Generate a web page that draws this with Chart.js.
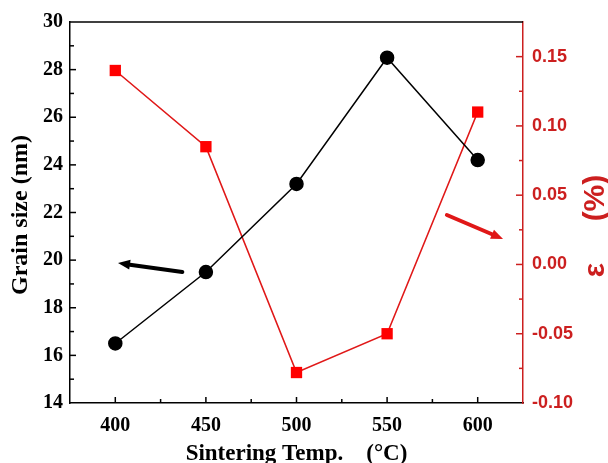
<!DOCTYPE html>
<html>
<head>
<meta charset="utf-8">
<script src="https://cdn.jsdelivr.net/npm/chart.js@4/dist/chart.umd.min.js"></script>
<style>
html,body{margin:0;padding:0;background:#fff}
#wrap{width:608px;height:463px}
</style>
</head>
<body>
<div id="wrap"><canvas id="c" width="608" height="463"></canvas></div>
<script>
const temps = [400, 450, 500, 550, 600];
const grainSize = [16.5, 19.5, 23.2, 28.5, 24.2];
const strain = [0.14, 0.085, -0.078, -0.05, 0.11];

const xTitle = 'Sintering Temp.    (°C)';
const yTitle = 'Grain size (nm)';
const y2Title = 'ε     (%)';

// arrows pointing to the axis each curve belongs to (data units)
const blackArrow = {from: [437, 19.5], to: [401.5, 19.88], axis: 'y'};
const redArrow = {from: [583, 0.0357], to: [614, 0.0184], axis: 'y2'};

const RED = '#e01818';
const AXRED = '#cc1f1f';

function drawArrow(ctx, x1, y1, x2, y2, color){
  const ang = Math.atan2(y2 - y1, x2 - x1);
  const head = 12, hw = 5;
  const bx = x2 - Math.cos(ang) * head, by = y2 - Math.sin(ang) * head;
  ctx.save();
  ctx.strokeStyle = color; ctx.fillStyle = color;
  ctx.lineWidth = 4; ctx.lineCap = 'round';
  ctx.beginPath(); ctx.moveTo(x1, y1); ctx.lineTo(bx, by); ctx.stroke();
  ctx.beginPath();
  ctx.moveTo(x2, y2);
  ctx.lineTo(bx + Math.sin(ang) * hw, by - Math.cos(ang) * hw);
  ctx.lineTo(bx - Math.sin(ang) * hw, by + Math.cos(ang) * hw);
  ctx.closePath(); ctx.fill();
  ctx.restore();
}

const decor = {
  id: 'decor',
  afterDraw(chart){
    const {ctx, chartArea: a, scales} = chart;
    ctx.save();
    // top frame line
    ctx.strokeStyle = '#000'; ctx.lineWidth = 1.5;
    ctx.beginPath(); ctx.moveTo(a.left, a.top); ctx.lineTo(a.right, a.top); ctx.stroke();

    // inward ticks
    ctx.lineWidth = 1.5;
    ctx.strokeStyle = '#000';
    for (let k = 1; k < 16; k++){
      const py = scales.y.getPixelForValue(14 + k);
      const len = k % 2 === 0 ? 6 : 4;
      ctx.beginPath(); ctx.moveTo(a.left, py); ctx.lineTo(a.left + len, py); ctx.stroke();
    }
    for (let k = 1; k < 10; k++){
      const px = scales.x.getPixelForValue(375 + k * 25);
      const len = k % 2 === 1 ? 6 : 4;
      ctx.beginPath(); ctx.moveTo(px, a.bottom); ctx.lineTo(px, a.bottom - len); ctx.stroke();
    }
    ctx.strokeStyle = AXRED;
    for (let k = 1; k < 11; k++){
      const py = scales.y2.getPixelForValue(-0.1 + k * 0.025);
      const len = k % 2 === 0 ? 7 : 4;
      ctx.beginPath(); ctx.moveTo(a.right, py); ctx.lineTo(a.right - len, py); ctx.stroke();
    }

    // arrows
    [[blackArrow, '#000'], [redArrow, RED]].forEach(([ar, col]) => {
      const ys = scales[ar.axis];
      drawArrow(ctx,
        scales.x.getPixelForValue(ar.from[0]), ys.getPixelForValue(ar.from[1]),
        scales.x.getPixelForValue(ar.to[0]), ys.getPixelForValue(ar.to[1]), col);
    });

    // axis titles
    ctx.fillStyle = '#000';
    ctx.textAlign = 'center';
    ctx.font = 'bold 23px "Liberation Serif"';
    ctx.textBaseline = 'alphabetic';
    ctx.fillText(xTitle, (a.left + a.right) / 2, 460);

    ctx.save();
    ctx.translate(21, 215); ctx.rotate(-Math.PI / 2);
    ctx.textBaseline = 'middle';
    ctx.font = 'bold 24px "Liberation Serif"';
    ctx.fillText(yTitle, 0, 0);
    ctx.restore();

    ctx.save();
    ctx.translate(596, 226); ctx.rotate(-Math.PI / 2);
    ctx.textBaseline = 'middle';
    ctx.fillStyle = AXRED;
    ctx.font = 'bold 30px "Liberation Sans"';
    ctx.fillText(y2Title, 0, 0);
    ctx.restore();

    ctx.restore();
  }
};

const isStep = (v, s) => Math.abs(v / s - Math.round(v / s)) < 1e-6;

new Chart(document.getElementById('c'), {
  type: 'scatter',
  data: {
    datasets: [
      {
        label: 'Grain size',
        data: temps.map((t, i) => ({x: t, y: grainSize[i]})),
        yAxisID: 'y',
        showLine: true,
        borderColor: '#000', backgroundColor: '#000',
        borderWidth: 1.5, pointRadius: 6.5, pointStyle: 'circle'
      },
      {
        label: 'Strain',
        data: temps.map((t, i) => ({x: t, y: strain[i]})),
        yAxisID: 'y2',
        showLine: true,
        borderColor: RED, backgroundColor: '#ff0000',
        borderWidth: 1.6, pointRadius: 8, pointStyle: 'rect', pointBorderWidth: 0
      }
    ]
  },
  options: {
    responsive: false,
    animation: false,
    layout: {padding: {top: 22, left: 0, right: 0, bottom: 0}},
    plugins: {legend: {display: false}, tooltip: {enabled: false}},
    scales: {
      x: {
        type: 'linear', min: 375, max: 625,
        afterBuildTicks: s => { s.ticks = s.ticks.filter(t => isStep(t.value, 50)); },
        afterFit: s => { s.height = 60; },
        grid: {display: false, drawTicks: false},
        border: {color: '#000', width: 1.5},
        ticks: {stepSize: 25, autoSkip: false, maxRotation: 0, padding: 11, color: '#000',
          font: {family: 'Liberation Serif', size: 20, weight: 'bold'}}
      },
      y: {
        position: 'left', min: 14, max: 30,
        afterFit: s => { s.width = 70; },
        grid: {display: false, drawTicks: false},
        border: {color: '#000', width: 1.5},
        ticks: {stepSize: 2, padding: 7, color: '#000',
          font: {family: 'Liberation Serif', size: 20, weight: 'bold'}}
      },
      y2: {
        position: 'right', min: -0.1, max: 0.175,
        afterBuildTicks: s => { s.ticks = s.ticks.filter(t => isStep(t.value, 0.05)); },
        afterFit: s => { s.width = 85; },
        grid: {display: false, drawTicks: false},
        border: {color: AXRED, width: 1.5},
        ticks: {stepSize: 0.05, padding: 9, color: AXRED,
          callback: v => (Math.abs(v) < 1e-9 ? 0 : v).toFixed(2),
          font: {family: 'Liberation Sans', size: 18, weight: 'bold'}}
      }
    }
  },
  plugins: [decor]
});
</script>
</body>
</html>
